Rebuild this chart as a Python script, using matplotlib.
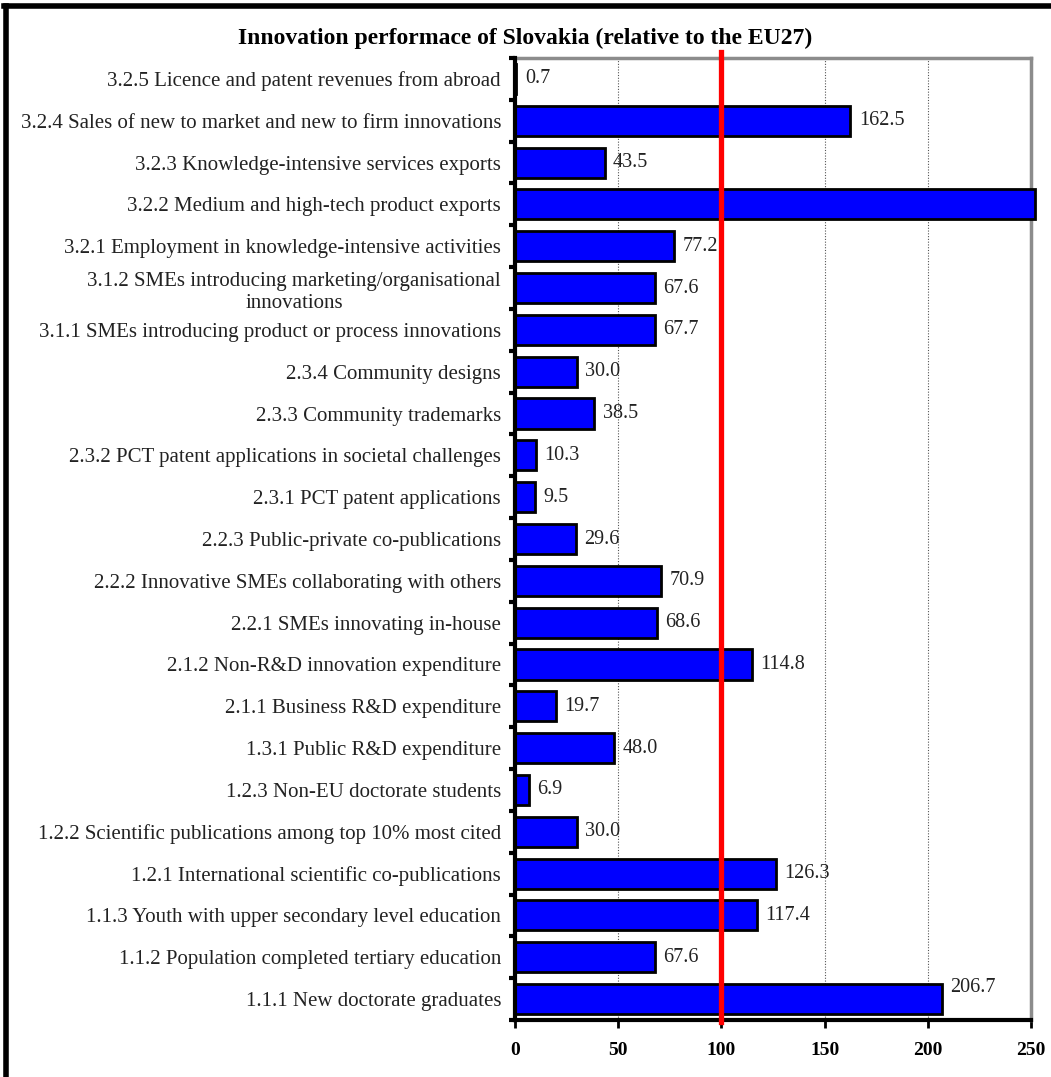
import matplotlib
matplotlib.use("Agg")
import matplotlib.pyplot as plt
from matplotlib.lines import Line2D
import numpy as np

categories = [
    "3.2.5 Licence and patent revenues from abroad",
    "3.2.4 Sales of new to market and new to firm innovations",
    "3.2.3 Knowledge-intensive services exports",
    "3.2.2 Medium and high-tech product exports",
    "3.2.1 Employment in knowledge-intensive activities",
    "3.1.2 SMEs introducing marketing/organisational\ninnovations",
    "3.1.1 SMEs introducing product or process innovations",
    "2.3.4 Community designs",
    "2.3.3 Community trademarks",
    "2.3.2 PCT patent applications in societal challenges",
    "2.3.1 PCT patent applications",
    "2.2.3 Public-private co-publications",
    "2.2.2 Innovative SMEs collaborating with others",
    "2.2.1 SMEs innovating in-house",
    "2.1.2 Non-R&D innovation expenditure",
    "2.1.1 Business R&D expenditure",
    "1.3.1 Public R&D expenditure",
    "1.2.3 Non-EU doctorate students",
    "1.2.2 Scientific publications among top 10% most cited",
    "1.2.1 International scientific co-publications",
    "1.1.3 Youth with upper secondary level education",
    "1.1.2 Population completed tertiary education",
    "1.1.1 New doctorate graduates",
]
values = [0.7, 162.5, 43.5, 252.0, 77.2, 67.6, 67.7, 30.0, 38.5, 10.3, 9.5,
          29.6, 70.9, 68.6, 114.8, 19.7, 48.0, 6.9, 30.0, 126.3, 117.4, 67.6, 206.7]
eu_reference = 100
x_ticks = [0, 50, 100, 150, 200, 250]
title = "Innovation performace of Slovakia (relative to the EU27)"

serif = ["Liberation Serif", "DejaVu Serif"]
plt.rcParams["font.family"] = serif

W, H = 1051, 1077
fig = plt.figure(figsize=(W / 100, H / 100), dpi=100)
ax = fig.add_axes([515 / W, 1 - 1020 / H, (1031 - 515) / W, (1020 - 58) / H])

n = len(categories)
ypos = np.arange(n)[::-1]
xmax = 250
ax.barh(ypos, values, height=0.72, color="#0000FF", edgecolor="black",
        linewidth=2.0, zorder=3, clip_on=False)

for y, v, lab in zip(ypos, values, categories):
    if v > xmax:
        continue
    dy = 8 if lab.startswith("1.1.1") else 0
    ax.annotate(f"{v:.1f}", xy=(v, y), xytext=(6, dy), textcoords="offset points",
                va="center", ha="left", fontsize=14.5, color="#222222", zorder=5)

ax.set_xlim(0, xmax)
ax.set_ylim(-0.5, n - 0.5)
ax.set_xticks(x_ticks)
ax.set_xticklabels([str(t) for t in x_ticks], fontweight="bold", fontsize=14)
ax.tick_params(axis="x", direction="out", length=6, width=2, pad=10, colors="black")

ax.set_yticks(ypos)
ax.set_yticklabels(categories, fontsize=15, color="#222222", multialignment="center",
                   linespacing=1.25)
ax.tick_params(axis="y", which="major", length=0, pad=10)
ax.set_yticks(np.arange(-0.5, n, 1.0), minor=True)
ax.tick_params(axis="y", which="minor", direction="out", length=4, width=3, colors="black")

ax.grid(axis="x", linestyle=(0, (1, 1.5)), color="#555555", linewidth=0.8, zorder=0)
ax.set_axisbelow(True)

ax.spines["left"].set_linewidth(3)
ax.spines["left"].set_color("black")
ax.spines["bottom"].set_linewidth(3)
ax.spines["bottom"].set_color("black")
ax.spines["top"].set_linewidth(2.5)
ax.spines["top"].set_color("#8c8c8c")
ax.spines["right"].set_linewidth(2.5)
ax.spines["right"].set_color("#8c8c8c")
ax.spines["left"].set_zorder(6)
ax.spines["bottom"].set_zorder(6)

ax.axvline(eu_reference, ymin=-0.002, ymax=1.006, color="#FF0000", linewidth=3.8,
           zorder=7, clip_on=False)

fig.text(0.5, 1 - 38 / H, title, ha="center", va="center", fontsize=17,
         fontweight="bold", color="black")

# outer border (left and top visible)
fig.add_artist(Line2D([5.5 / W, 5.5 / W], [0, 1 - 5.5 / H], transform=fig.transFigure,
                      color="black", linewidth=4))
fig.add_artist(Line2D([3.5 / W, 1], [1 - 5.5 / H, 1 - 5.5 / H], transform=fig.transFigure,
                      color="black", linewidth=4))

fig.savefig("out.png", dpi=100, facecolor="white")
